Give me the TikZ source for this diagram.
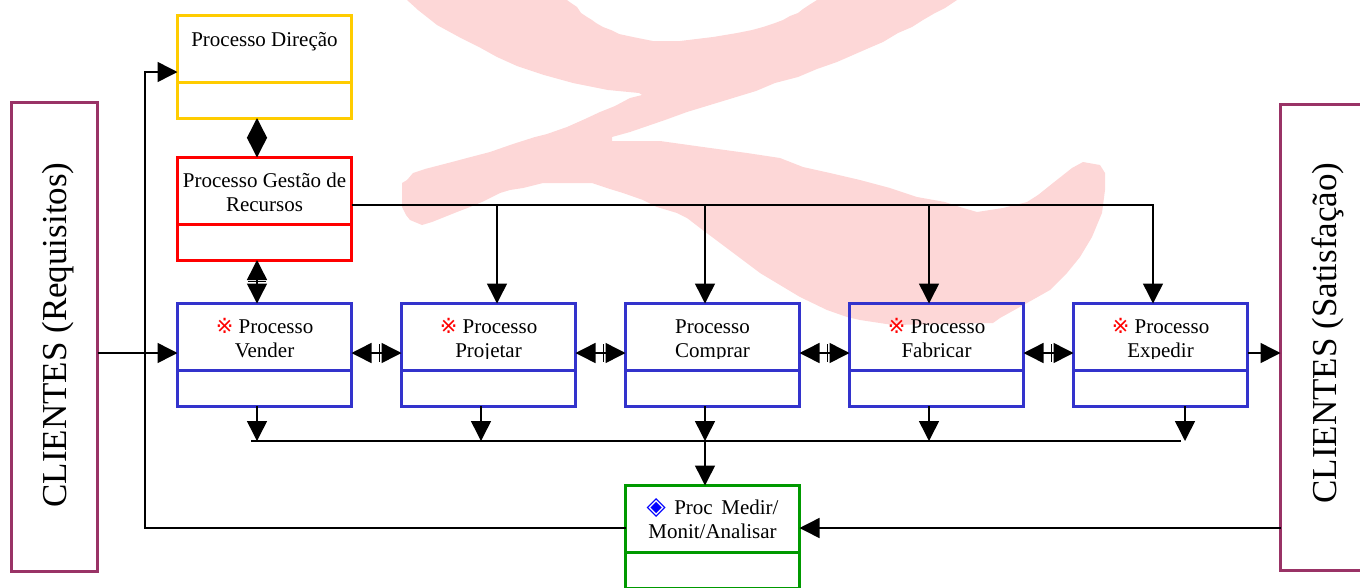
\documentclass[tikz,border=0pt]{standalone}
\usepackage{fontspec}
\setmainfont{Liberation Serif}
\newfontfamily\symfont{DejaVu Sans}
\usetikzlibrary{arrows.meta,calc}
\definecolor{cyel}{RGB}{255,204,0}
\definecolor{cred}{RGB}{255,0,0}
\definecolor{cblue}{RGB}{51,51,204}
\definecolor{cgreen}{RGB}{0,153,0}
\definecolor{cmaroon}{RGB}{153,51,102}
\definecolor{cpink}{RGB}{253,215,215}
\definecolor{cdia}{RGB}{0,0,255}
\newcommand\refm{{\fontsize{21pt}{21pt}\symfont\color{cred}※}}
\newcommand\diam{{\fontsize{25pt}{25pt}\symfont\color{cdia}◈}}
\newcommand\dblh[2]{%
  \draw[conn,<->] (#1) -- (#2);
  \draw[line width=1.3pt] ($(#2)+(-22,-9)$) -- ($(#2)+(-22,9)$);}
\newcommand\dblv[2]{%
  \draw[conn,<->] (#1) -- (#2);
  \draw[line width=1.3pt] ($(#2)+(-9,-22)$) -- ($(#2)+(9,-22)$);}
\begin{document}
\begin{tikzpicture}[x=1pt,y=-1pt,
  >={Triangle[length=20pt,width=20pt]},
  box/.style={draw=#1,line width=3pt,minimum width=174pt,inner sep=0pt,outer sep=0pt,anchor=north west},
  topbox/.style={box=#1,minimum height=66.5pt},
  lowbox/.style={box=#1,minimum height=36pt},
  cli/.style={draw=cmaroon,line width=3pt,inner sep=0pt,outer sep=0pt,anchor=north west},
  conn/.style={line width=1.5pt},
  txt/.style={font=\fontsize{21pt}{24pt}\selectfont,inner sep=0pt,anchor=base},
  big/.style={font=\fontsize{35pt}{40pt}\selectfont,inner sep=0pt,anchor=base,rotate=90}]
\clip (0,0) rectangle (1360,587);
% watermark
\fill[cpink] (407,0) -- (567,0) -- (571,3) -- (577,7) -- (581,13) -- (587,17) -- (592,20) -- (596,23) -- (603,27) -- (611,30) -- (619,34) -- (633,37) -- (653,41) -- (680,41) -- (713,37) -- (737,33) -- (752,30) -- (763,27) -- (775,23) -- (783,20) -- (790,16) -- (798,13) -- (803,9) -- (809,5) -- (817,0) -- (957,0) -- (945,8) -- (935,13) -- (923,20) -- (912,27) -- (898,33) -- (883,42) -- (869,48) -- (853,55) -- (837,62) -- (817,69) -- (798,77) -- (775,83) -- (756,91) -- (733,98) -- (710,105) -- (687,112) -- (665,120) -- (630,132) -- (612,137) -- (612,141) -- (660,141) -- (703,147) -- (747,153) -- (780,158) -- (803,167) -- (830,173) -- (860,180) -- (890,188) -- (917,197) -- (945,202) -- (960,207) -- (977,212) -- (1003,208) -- (1027,202) -- (1038,195) -- (1053,183) -- (1072,168) -- (1083,162) -- (1100,165) -- (1105,173) -- (1105,190) -- (1102,213) -- (1092,237) -- (1080,257) -- (1067,273) -- (1050,290) -- (1027,303) -- (1000,318) -- (993,323) -- (893,325) -- (860,320) -- (847,317) -- (827,310) -- (800,297) -- (780,285) -- (760,273) -- (740,258) -- (720,243) -- (700,228) -- (687,218) -- (677,213) -- (657,207) -- (643,200) -- (623,193) -- (610,189) -- (592,183) -- (543,183) -- (523,188) -- (510,190) -- (500,193) -- (490,198) -- (482,202) -- (470,207) -- (457,212) -- (447,216) -- (432,222) -- (422,225) -- (410,220) -- (406,215) -- (402,207) -- (402,183) -- (407,180) -- (413,173) -- (425,169) -- (452,162) -- (467,158) -- (490,152) -- (513,144) -- (535,137) -- (547,134) -- (567,127) -- (585,119) -- (600,112) -- (615,106) -- (630,98) -- (642,95) -- (639,93) -- (608,90) -- (573,83) -- (544,75) -- (517,66) -- (497,57) -- (479,47) -- (459,37) -- (437,25) -- (418,10) -- cycle;
% boxes
\node[topbox=cyel] (DirecaoT) at (177.5,15.5) {};
\node[lowbox=cyel] (DirecaoL) at (177.5,82) {};
\node[topbox=cred] (GestaoT) at (177.5,157.5) {};
\node[lowbox=cred] (GestaoL) at (177.5,224) {};
\node[topbox=cblue] (VenderT) at (177.5,303.5) {};
\node[lowbox=cblue] (VenderL) at (177.5,370) {};
\node[topbox=cblue] (ProjetarT) at (401.5,303.5) {};
\node[lowbox=cblue] (ProjetarL) at (401.5,370) {};
\node[topbox=cblue] (ComprarT) at (625.5,303.5) {};
\node[lowbox=cblue] (ComprarL) at (625.5,370) {};
\node[topbox=cblue] (FabricarT) at (849.5,303.5) {};
\node[lowbox=cblue] (FabricarL) at (849.5,370) {};
\node[topbox=cblue] (ExpedirT) at (1073.5,303.5) {};
\node[lowbox=cblue] (ExpedirL) at (1073.5,370) {};
\node[topbox=cgreen] (MedirT) at (625.5,485.5) {};
\node[lowbox=cgreen] (MedirL) at (625.5,552) {};
\node[cli,minimum width=86pt,minimum height=469pt] (CliR) at (11.5,102.5) {};
\node[cli,minimum width=95pt,minimum height=466pt] (CliS) at (1280.5,104.5) {};
% texts
\node[txt] (tDir) at (264.5,46) {Processo Direção};
\node[txt] (tGes1) at (264.5,187) {Processo Gestão de};
\node[txt] (tGes2) at (264.5,211) {Recursos};
\begin{scope}
\clip (170,300) rectangle (1260,358.5);
\node[txt] (tVen1) at (264.5,333) {\refm\ Processo};
\node[txt] (tVen2) at (264.5,357) {Vender};
\node[txt] (tPro1) at (488.5,333) {\refm\ Processo};
\node[txt] (tPro2) at (488.5,357) {Projetar};
\node[txt] (tCom1) at (712.5,333) {Processo};
\node[txt] (tCom2) at (712.5,357) {Comprar};
\node[txt] (tFab1) at (936.5,333) {\refm\ Processo};
\node[txt] (tFab2) at (936.5,357) {Fabricar};
\node[txt] (tExp1) at (1160.5,333) {\refm\ Processo};
\node[txt] (tExp2) at (1160.5,357) {Expedir};
\end{scope}
\node[txt] (tMed1) at (712.5,514) {\makebox[132pt][s]{\diam\ Proc Medir/}};
\node[txt] (tMed2) at (712.5,538) {Monit/Analisar};
\node[big] (tCliR) at (66.7,335) {CLIENTES (Requisitos)};
\node[big] (tCliS) at (1336.7,333) {CLIENTES (Satisfação)};
% coordinates
\coordinate (row) at (0,353);
\coordinate (colA) at (257,0);
\coordinate (gl1) at (497,205);
\coordinate (gl2) at (705,205);
\coordinate (gl3) at (929,205);
\coordinate (gl4) at (1153,205);
\coordinate (busL) at (251,441);
\coordinate (busR) at (1181,441);
\coordinate (b1) at (257,441);
\coordinate (b2) at (481,441);
\coordinate (b3) at (705,441);
\coordinate (b4) at (929,441);
\coordinate (b5) at (1185,441);
\coordinate (fb) at (145,528);
\coordinate (fbTop) at (145,72);
% vertical double arrows
\path (DirecaoL.south -| colA) coordinate (v1a) (GestaoT.north -| colA) coordinate (v1b)
      (GestaoL.south -| colA) coordinate (v2a) (VenderT.north -| colA) coordinate (v2b);
\dblv{v1a}{v1b}
\dblv{v2a}{v2b}
% horizontal double arrows
\path (VenderT.east |- row) coordinate (h1a) (ProjetarT.west |- row) coordinate (h1b)
      (ProjetarT.east |- row) coordinate (h2a) (ComprarT.west |- row) coordinate (h2b)
      (ComprarT.east |- row) coordinate (h3a) (FabricarT.west |- row) coordinate (h3b)
      (FabricarT.east |- row) coordinate (h4a) (ExpedirT.west |- row) coordinate (h4b);
\dblh{h1a}{h1b}
\dblh{h2a}{h2b}
\dblh{h3a}{h3b}
\dblh{h4a}{h4b}
% customer arrows
\draw[conn,->] (CliR.east |- row) -- (VenderT.west |- row);
\draw[conn,->] (ExpedirT.east |- row) -- (CliS.west |- row);
\draw[conn,->] (CliS.west |- fb) -- (MedirT.east |- fb);
\draw[conn,->] (MedirT.west |- fb) -- (fb) -- (fbTop) -- (DirecaoT.west |- fbTop);
% resource line
\draw[conn,->] (GestaoT.east |- gl1) -- (gl4) -- (ExpedirT.north -| gl4);
\draw[conn,->] (gl1) -- (ProjetarT.north -| gl1);
\draw[conn,->] (gl2) -- (ComprarT.north -| gl2);
\draw[conn,->] (gl3) -- (FabricarT.north -| gl3);
% bus
\draw[conn] (busL) -- (busR);
\draw[conn,->] (VenderL.south -| b1) -- (b1);
\draw[conn,->] (ProjetarL.south -| b2) -- (b2);
\draw[conn,->] (ComprarL.south -| b3) -- (b3);
\draw[conn,->] (FabricarL.south -| b4) -- (b4);
\draw[conn,->] (ExpedirL.south -| b5) -- (b5);
\draw[conn,->] (b3) -- (MedirT.north -| b3);
\end{tikzpicture}
\end{document}
